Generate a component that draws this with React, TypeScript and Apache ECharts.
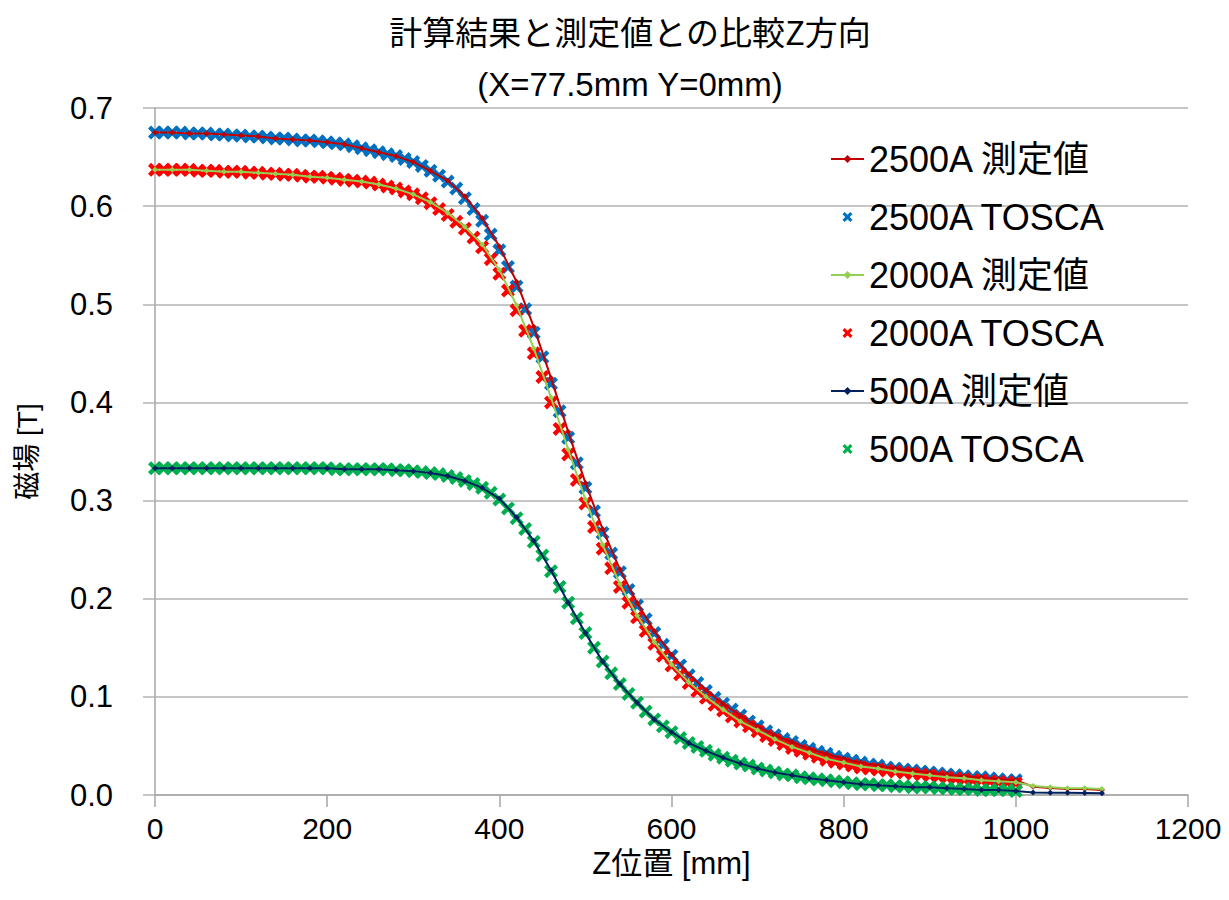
import React, { useEffect, useRef } from "react";
import * as echarts from "echarts";

const titleText = "計算結果と測定値との比較Z方向";
const subTitleText = "(X=77.5mm Y=0mm)";
const xAxisName = "Z位置 [mm]";
const yAxisName = "磁場 [T]";

const seriesNames = [
  "2500A 測定値",
  "2500A TOSCA",
  "2000A 測定値",
  "2000A TOSCA",
  "500A 測定値",
  "500A TOSCA",
];

// z positions of measured points (mm)
const zMeasured = [
  0, 20, 40, 60, 80, 100, 120, 140, 160, 180, 200, 220, 240, 260, 280, 300, 320, 340, 360, 380,
  400, 420, 440, 460, 480, 500, 520, 540, 560, 580, 600, 620, 640, 660, 680, 700, 720, 740, 760, 780,
  800, 820, 840, 860, 880, 900, 920, 940, 960, 980, 1000, 1020, 1040, 1060, 1080, 1100,
];

// z positions of TOSCA points (mm)
const zTosca = [
  0, 10, 20, 30, 40, 50, 60, 70, 80, 90, 100, 110, 120, 130, 140, 150, 160, 170, 180, 190,
  200, 210, 220, 230, 240, 250, 260, 270, 280, 290, 300, 310, 320, 330, 340, 350, 360, 370, 380, 390,
  400, 410, 420, 430, 440, 450, 460, 470, 480, 490, 500, 510, 520, 530, 540, 550, 560, 570, 580, 590,
  600, 610, 620, 630, 640, 650, 660, 670, 680, 690, 700, 710, 720, 730, 740, 750, 760, 770, 780, 790,
  800, 810, 820, 830, 840, 850, 860, 870, 880, 890, 900, 910, 920, 930, 940, 950, 960, 970, 980, 990,
  1000,
];

const meas2500 = [
  0.675, 0.675, 0.674, 0.674, 0.673, 0.672, 0.671, 0.669, 0.668, 0.667, 0.665, 0.663, 0.659, 0.655, 0.651, 0.645, 0.636, 0.626, 0.61, 0.588,
  0.559, 0.523, 0.477, 0.425, 0.37, 0.318, 0.271, 0.23, 0.196, 0.167, 0.143, 0.123, 0.107, 0.093, 0.081, 0.07, 0.061, 0.054, 0.047, 0.042,
  0.037, 0.033, 0.03, 0.027, 0.025, 0.023, 0.021, 0.019, 0.018, 0.016, 0.015, 0.0085, 0.0072, 0.0062, 0.006, 0.0052,
];

const tosca2500 = [
  0.675, 0.675, 0.675, 0.675, 0.674, 0.674, 0.674, 0.673, 0.673, 0.672, 0.672, 0.671, 0.671, 0.67, 0.669, 0.669, 0.668, 0.667, 0.667, 0.666,
  0.665, 0.664, 0.663, 0.661, 0.659, 0.657, 0.655, 0.653, 0.651, 0.648, 0.645, 0.641, 0.636, 0.631, 0.625, 0.618, 0.608, 0.597, 0.585, 0.571,
  0.555, 0.538, 0.518, 0.495, 0.471, 0.446, 0.419, 0.391, 0.364, 0.338, 0.313, 0.289, 0.267, 0.246, 0.227, 0.209, 0.193, 0.179, 0.165, 0.153,
  0.142, 0.132, 0.122, 0.114, 0.106, 0.099, 0.093, 0.087, 0.081, 0.075, 0.07, 0.065, 0.061, 0.057, 0.054, 0.05, 0.047, 0.044, 0.042, 0.039,
  0.037, 0.035, 0.033, 0.031, 0.03, 0.028, 0.027, 0.026, 0.025, 0.024, 0.023, 0.022, 0.021, 0.02, 0.019, 0.018, 0.018, 0.017, 0.016, 0.015,
  0.015,
];

const meas2000 = [
  0.637, 0.637, 0.637, 0.636, 0.635, 0.635, 0.634, 0.633, 0.632, 0.63, 0.629, 0.627, 0.625, 0.622, 0.618, 0.612, 0.604, 0.593, 0.579, 0.561,
  0.535, 0.499, 0.455, 0.405, 0.352, 0.301, 0.255, 0.215, 0.183, 0.156, 0.133, 0.115, 0.1, 0.087, 0.075, 0.066, 0.057, 0.049, 0.043, 0.037,
  0.033, 0.029, 0.027, 0.024, 0.022, 0.02, 0.018, 0.017, 0.015, 0.014, 0.013, 0.0092, 0.0078, 0.007, 0.0068, 0.006,
];

const tosca2000 = [
  0.637, 0.637, 0.637, 0.637, 0.637, 0.636, 0.636, 0.636, 0.635, 0.635, 0.635, 0.634, 0.634, 0.633, 0.633, 0.632, 0.632, 0.631, 0.63, 0.63,
  0.629, 0.628, 0.627, 0.626, 0.625, 0.624, 0.622, 0.62, 0.618, 0.615, 0.612, 0.608, 0.603, 0.597, 0.591, 0.584, 0.577, 0.568, 0.558, 0.546,
  0.531, 0.514, 0.494, 0.473, 0.45, 0.426, 0.4, 0.373, 0.347, 0.321, 0.297, 0.273, 0.251, 0.231, 0.212, 0.196, 0.181, 0.167, 0.154, 0.142,
  0.132, 0.123, 0.114, 0.106, 0.099, 0.092, 0.086, 0.08, 0.075, 0.07, 0.065, 0.06, 0.056, 0.052, 0.048, 0.045, 0.042, 0.039, 0.036, 0.034,
  0.032, 0.03, 0.028, 0.027, 0.026, 0.025, 0.024, 0.023, 0.022, 0.021, 0.02, 0.019, 0.018, 0.017, 0.016, 0.015, 0.015, 0.014, 0.013, 0.013,
  0.012,
];

const meas500 = [
  0.333, 0.333, 0.333, 0.333, 0.333, 0.333, 0.333, 0.333, 0.333, 0.333, 0.333, 0.332, 0.332, 0.332, 0.331, 0.33, 0.328, 0.325, 0.32, 0.313,
  0.302, 0.283, 0.259, 0.229, 0.196, 0.165, 0.136, 0.113, 0.094, 0.077, 0.064, 0.053, 0.045, 0.038, 0.032, 0.027, 0.023, 0.02, 0.017, 0.015,
  0.013, 0.011, 0.01, 0.009, 0.008, 0.008, 0.007, 0.006, 0.005, 0.005, 0.004, 0.0025, 0.0024, 0.0022, 0.002, 0.0018,
];

const tosca500 = [
  0.333, 0.333, 0.333, 0.333, 0.333, 0.333, 0.333, 0.333, 0.333, 0.333, 0.333, 0.333, 0.333, 0.333, 0.333, 0.333, 0.333, 0.333, 0.333, 0.333,
  0.333, 0.332, 0.332, 0.332, 0.332, 0.332, 0.332, 0.332, 0.331, 0.331, 0.33, 0.329, 0.328, 0.327, 0.325, 0.323, 0.32, 0.317, 0.313, 0.308,
  0.301, 0.292, 0.282, 0.271, 0.258, 0.244, 0.228, 0.212, 0.196, 0.18, 0.165, 0.15, 0.136, 0.124, 0.113, 0.103, 0.094, 0.085, 0.077, 0.07,
  0.064, 0.058, 0.053, 0.049, 0.045, 0.041, 0.038, 0.035, 0.032, 0.03, 0.027, 0.025, 0.023, 0.021, 0.02, 0.018, 0.017, 0.016, 0.015, 0.014,
  0.013, 0.012, 0.011, 0.011, 0.01, 0.01, 0.009, 0.009, 0.008, 0.008, 0.008, 0.007, 0.007, 0.006, 0.006, 0.006, 0.005, 0.005, 0.005, 0.005,
  0.004,
];

const xTicks = { min: 0, max: 1200, interval: 200 };
const yTicks = { min: 0, max: 0.7, interval: 0.1 };

const X_SYMBOL =
  "path://M0,2.2L2.2,0L5,2.8L7.8,0L10,2.2L7.2,5L10,7.8L7.8,10L5,7.2L2.2,10L0,7.8L2.8,5Z";

const FONT = "'Liberation Sans', Arial, 'Noto Sans CJK JP', sans-serif";

function pairs(xs: number[], ys: number[]) {
  return ys.map((y, i) => [xs[i], y]);
}

export default function App() {
  const ref = useRef<HTMLDivElement>(null);

  useEffect(() => {
    if (!ref.current) return;
    const chart = echarts.init(ref.current, undefined, { renderer: "svg" });

    const measStyle = (color: string, name: string, ys: number[]) => ({
      name,
      type: "line",
      data: pairs(zMeasured, ys),
      symbol: "diamond",
      symbolSize: 6,
      showSymbol: true,
      lineStyle: { color, width: 2 },
      itemStyle: { color },
      smooth: false,
    });
    const toscaStyle = (color: string, name: string, ys: number[]) => ({
      name,
      type: "scatter",
      data: pairs(zTosca, ys),
      symbol: X_SYMBOL,
      symbolSize: 14,
      itemStyle: { color, opacity: 1 },
    });

    chart.setOption({
      animation: false,
      backgroundColor: "#ffffff",
      textStyle: { fontFamily: FONT },
      title: [
        {
          text: titleText,
          left: 625,
          top: 9,
          textAlign: "center",
          textStyle: {
            fontFamily: "'Noto Sans CJK JP', sans-serif",
            fontSize: 33,
            fontWeight: "normal",
            color: "#000",
          },
        },
        {
          text: subTitleText,
          left: 625,
          top: 63,
          textAlign: "center",
          textStyle: {
            fontFamily: FONT,
            fontSize: 33,
            fontWeight: "normal",
            color: "#000",
          },
        },
      ],
      legend: {
        orient: "vertical",
        left: 830,
        top: 141,
        padding: 0,
        itemWidth: 33,
        itemHeight: 10,
        itemGap: 22,
        textStyle: {
          fontFamily: FONT,
          fontSize: 36,
          color: "#000",
          lineHeight: 36,
        },
        data: seriesNames,
      },
      grid: {
        left: 155,
        right: 41,
        top: 108,
        bottom: 105,
        containLabel: false,
      },
      xAxis: {
        type: "value",
        min: xTicks.min,
        max: xTicks.max,
        interval: xTicks.interval,
        name: xAxisName,
        nameLocation: "middle",
        nameGap: 45,
        nameTextStyle: { fontFamily: FONT, fontSize: 31, color: "#000", verticalAlign: "top" },
        axisLine: { show: true, onZero: false, lineStyle: { color: "#a6a6a6", width: 1.5 } },
        axisTick: { show: true, length: 12, lineStyle: { color: "#a6a6a6", width: 1.5 } },
        axisLabel: {
          fontFamily: FONT,
          fontSize: 30,
          color: "#000",
          margin: 18,
          formatter: (v: number) => String(v),
        },
        splitLine: { show: false },
      },
      yAxis: {
        type: "value",
        min: yTicks.min,
        max: yTicks.max,
        interval: yTicks.interval,
        name: yAxisName,
        nameLocation: "middle",
        nameGap: 114,
        nameRotate: 90,
        nameTextStyle: { fontFamily: FONT, fontSize: 28, color: "#000" },
        axisLine: { show: true, lineStyle: { color: "#a6a6a6", width: 1.5 } },
        axisTick: { show: true, length: 12, lineStyle: { color: "#b3b3b3", width: 1.5 } },
        axisLabel: {
          fontFamily: FONT,
          fontSize: 31,
          color: "#000",
          margin: 42,
          formatter: (v: number) => v.toFixed(1),
        },
        splitLine: { show: true, lineStyle: { color: "#b3b3b3", width: 1.5 } },
      },
      series: [
        measStyle("#c00000", seriesNames[0], meas2500),
        toscaStyle("#0070c0", seriesNames[1], tosca2500),
        measStyle("#92d050", seriesNames[2], meas2000),
        toscaStyle("#ff0000", seriesNames[3], tosca2000),
        measStyle("#002060", seriesNames[4], meas500),
        toscaStyle("#00b050", seriesNames[5], tosca500),
      ],
    });

    return () => chart.dispose();
  }, []);

  return (
    <div
      ref={ref}
      style={{ position: "absolute", left: 0, top: 0, width: 1229, height: 900 }}
    />
  );
}
